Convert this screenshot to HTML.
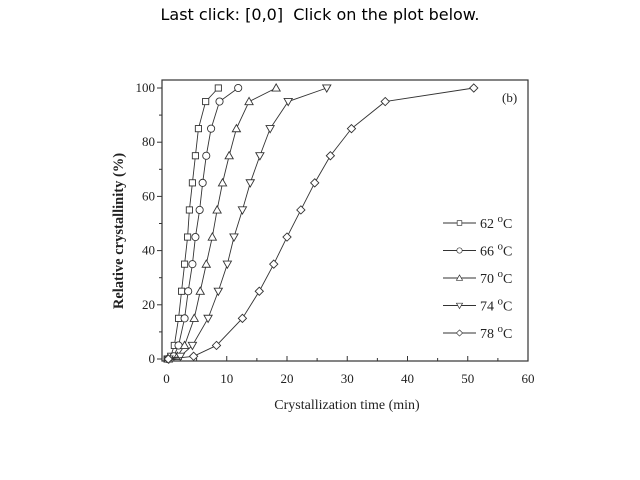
<!DOCTYPE html>
<html><head><meta charset="utf-8"><style>
body{margin:0;background:#fff;width:640px;height:480px;overflow:hidden}
#t{position:absolute;top:5px;left:0;width:640px;text-align:center;font:16px "DejaVu Sans",sans-serif;color:#000}
svg{position:absolute;left:0;top:0}
.s{font-family:"Liberation Serif",serif;fill:#222}
</style></head><body>
<div id="t">Last click: [0,0]&nbsp; Click on the plot below.</div>
<svg id="c" width="640" height="480"></svg>
<script>
const yVals=[0,1,5,15,25,35,45,55,65,75,85,95,100];
const s62=[0.1,0.7,1.3,2.0,2.5,3.0,3.5,3.8,4.3,4.8,5.3,6.5,8.6];
const s66=[0.2,1.2,2.0,3.0,3.6,4.3,4.8,5.5,6.0,6.6,7.4,8.8,11.9];
const s70=[0.3,1.8,3.0,4.6,5.6,6.6,7.6,8.4,9.3,10.4,11.6,13.7,18.2];
const s74=[0.4,2.3,4.3,6.9,8.6,10.1,11.2,12.6,13.9,15.5,17.2,20.2,26.6];
const s78=[0.3,4.5,8.3,12.6,15.4,17.8,20.0,22.3,24.6,27.2,30.7,36.3,51.0];
const labels=["62","66","70","74","78"];
const markers=["square","circle","up","down","diamond"];
const xTicks=[0,10,20,30,40,50,60];
const yTicks=[0,20,40,60,80,100];
const X=v=>166.5+v*(528-166.5)/60, Y=v=>359-v*2.71;
const svg=document.getElementById('c'),NS='http://www.w3.org/2000/svg';
function mk(tag,a,p){const e=document.createElementNS(NS,tag);for(const k in a)e.setAttribute(k,a[k]);(p||svg).appendChild(e);return e;}
const fr=mk('rect',{x:162,y:80,width:366,height:281,fill:'none',stroke:'#333','stroke-width':1.2});


for(let v=0;v<=60;v+=5){const l=mk('line',{x1:X(v),x2:X(v),y1:361,y2:361-(v%10?3:5),stroke:'#333'});

}
for(let v=0;v<=100;v+=10){const l=mk('line',{x1:162,x2:162-(v%20?3:5),y1:Y(v),y2:Y(v),stroke:'#333'});

}
xTicks.forEach(v=>{const t=mk('text',{x:X(v),y:383,'text-anchor':'middle','font-size':13,class:'s'});t.textContent=v;

});
yTicks.forEach(v=>{const t=mk('text',{x:155,y:Y(v)+4,'text-anchor':'end','font-size':13,class:'s'});t.textContent=v;

});
let xt=mk('text',{x:347,y:409,'text-anchor':'middle','font-size':14,class:'s'});xt.textContent='Crystallization time (min)';


let yt=mk('text',{x:0,y:0,transform:'translate(123,231) rotate(-90)','text-anchor':'middle','font-size':14.5,'font-weight':'bold',class:'s'});yt.textContent='Relative crystallinity (%)';


let bt=mk('text',{x:502,y:102,'font-size':13,class:'s'});bt.textContent='(b)';


function marker(type,x,y,g){const r=3.6;let a={fill:'#fff',stroke:'#333','stroke-width':0.9};
 if(type==='square')return mk('rect',Object.assign({x:x-r+0.5,y:y-r+0.5,width:2*r-1,height:2*r-1},a),g);
 if(type==='circle')return mk('circle',Object.assign({cx:x,cy:y,r:r},a),g);
 if(type==='up')return mk('polygon',Object.assign({points:`${x},${y-r-0.5} ${x-r-0.5},${y+r-0.5} ${x+r+0.5},${y+r-0.5}`},a),g);
 if(type==='down')return mk('polygon',Object.assign({points:`${x},${y+r+0.5} ${x-r-0.5},${y-r+0.5} ${x+r+0.5},${y-r+0.5}`},a),g);
 return mk('polygon',Object.assign({points:`${x},${y-r-0.5} ${x+r+0.5},${y} ${x},${y+r+0.5} ${x-r-0.5},${y}`},a),g);}
[s62,s66,s70,s74,s78].forEach((s,i)=>{
 const g=mk('g',{});
 
 
 mk('polyline',{points:s.map((v,j)=>X(v)+','+Y(yVals[j])).join(' '),fill:'none',stroke:'#333','stroke-width':0.9},g);
 s.forEach((v,j)=>{const m=marker(markers[i],X(v),Y(yVals[j]),g);
  
  });
 const ly=223+i*27.5;
 const lg=mk('g',{},svg);
 
 
 mk('line',{x1:443,x2:476,y1:ly,y2:ly,stroke:'#333'},lg);
 marker(markers[i],459.5,ly,lg).setAttribute('transform',`translate(${459.5*0.25},${ly*0.25}) scale(0.75)`);
 const t=mk('text',{x:480,y:ly+5,'font-size':14,class:'s'},lg);
 t.innerHTML=labels[i]+' <tspan dy="-6" font-size="11">o</tspan><tspan dy="6">C</tspan>';
});
</script>
</body></html>
